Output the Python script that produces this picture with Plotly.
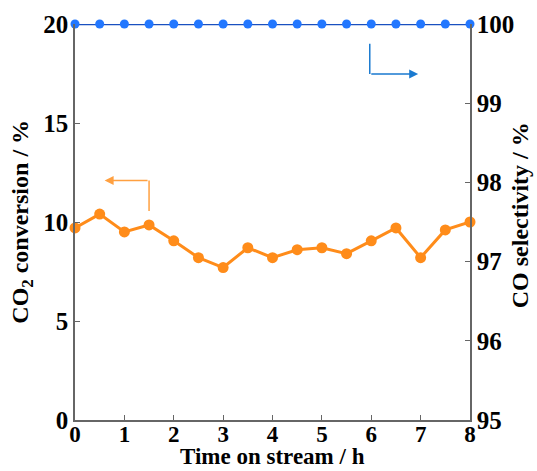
import plotly.graph_objects as go

time_h = [0, 0.5, 1, 1.5, 2, 2.5, 3, 3.5, 4, 4.5, 5, 5.5, 6, 6.5, 7, 7.5, 8]
co2_conversion = [9.7, 10.4, 9.5, 9.85, 9.05, 8.2, 7.7, 8.7, 8.2, 8.6, 8.7, 8.4, 9.05, 9.7, 8.2, 9.6, 10.0]
co_selectivity = [100] * 17

x_ticks = [0, 1, 2, 3, 4, 5, 6, 7, 8]
left_ticks = [0, 5, 10, 15, 20]
right_ticks = [95, 96, 97, 98, 99, 100]

FONT = "Liberation Serif"
AX = "#666666"

fig = go.Figure()
fig.add_trace(go.Scatter(
    x=time_h, y=co2_conversion, mode="lines+markers",
    line=dict(color="#ff8c1a", width=3),
    marker=dict(color="#ff8c1a", size=11),
    cliponaxis=False, showlegend=False, yaxis="y"))
fig.add_trace(go.Scatter(
    x=time_h, y=co_selectivity, mode="lines+markers",
    line=dict(color="#1a50c0", width=2.5),
    marker=dict(color="#2277ff", size=9),
    cliponaxis=False, showlegend=False, yaxis="y2"))

tickfont = dict(family=FONT, size=25, color="black", weight="bold")
xtickfont = dict(family=FONT, size=23, color="black", weight="bold")
titlefont = dict(family=FONT, size=24, color="black", weight="bold")
xtitlefont = dict(family=FONT, size=23, color="black", weight="bold")

common = dict(ticks="inside", ticklen=5, tickcolor=AX, showline=True,
              linecolor=AX, linewidth=1.5, showgrid=False, zeroline=False,
              automargin=False)

fig.update_layout(
    width=537, height=471,
    margin=dict(l=75, r=67, t=24, b=51),
    paper_bgcolor="white", plot_bgcolor="white",
    font=dict(family=FONT, color="black"),
    xaxis=dict(range=[0, 8], tickvals=x_ticks, ticklabelstandoff=-7,
               tickfont=xtickfont, **common),
    yaxis=dict(range=[0, 20], tickvals=left_ticks, ticklabelstandoff=0,
               tickfont=tickfont, **common),
    yaxis2=dict(range=[95, 100], tickvals=right_ticks, overlaying="y", side="right",
                ticklabelstandoff=0, tickfont=tickfont, **common),
)

# axis titles
fig.add_annotation(text="Time on stream / h", xref="paper", yref="paper",
                   x=0.5, y=-0.128, yanchor="bottom", showarrow=False, font=xtitlefont)
fig.add_annotation(text="CO<sub>2</sub> conversion / %", xref="paper", yref="paper",
                   x=-0.135, y=0.5, xanchor="center", yanchor="middle", textangle=-90,
                   showarrow=False, font=titlefont)
fig.add_annotation(text="CO selectivity / %", xref="paper", yref="paper",
                   x=1.125, y=0.518, xanchor="center", yanchor="middle", textangle=-90,
                   showarrow=False, font=titlefont)

# orange arrow (points to left axis)
fig.add_shape(type="line", xref="x", yref="y", x0=1.5, y0=10.55, x1=1.5, y1=12.1,
              line=dict(color="#ffa040", width=1.5))
fig.add_annotation(x=0.6, y=12.1, ax=1.5, ay=12.1, xref="x", yref="y",
                   axref="x", ayref="y", showarrow=True, arrowhead=2,
                   arrowsize=1.2, arrowwidth=1.5, arrowcolor="#ffa040", text="")
# blue arrow (points to right axis)
fig.add_shape(type="line", xref="x", yref="y2", x0=5.97, y0=99.75, x1=5.97, y1=99.37,
              line=dict(color="#1a7ad0", width=1.5))
fig.add_annotation(x=6.95, y=99.37, ax=5.97, ay=99.37, xref="x", yref="y2",
                   axref="x", ayref="y2", showarrow=True, arrowhead=2,
                   arrowsize=1.2, arrowwidth=1.5, arrowcolor="#1a7ad0", text="")

fig.write_html("out.html", config={"displayModeBar": False},
               post_script="document.body.style.margin='0';")
